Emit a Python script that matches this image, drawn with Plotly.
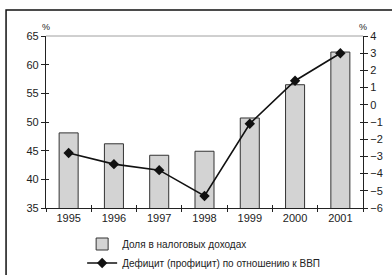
import plotly.graph_objects as go

years = ["1995", "1996", "1997", "1998", "1999", "2000", "2001"]
tax_share = [48.1, 46.2, 44.2, 44.9, 50.7, 56.5, 62.2]
deficit = [-2.8, -3.45, -3.8, -5.3, -1.1, 1.4, 3.0]
bar_name = "Доля в налоговых доходах"
line_name = "Дефицит (профицит) по отношению к ВВП"

FONT = "Liberation Sans, Arial, sans-serif"
AX = "#222222"

fig = go.Figure()
fig.add_trace(go.Bar(
    x=years, y=tax_share, name=bar_name, xaxis="x", yaxis="y",
    marker=dict(color="#d3d3d3", line=dict(color="#333333", width=1)),
    width=0.42,
))
fig.add_trace(go.Scatter(
    x=years, y=deficit, name=line_name, xaxis="x", yaxis="y2",
    mode="lines+markers",
    line=dict(color="#111111", width=1.6),
    marker=dict(symbol="diamond", size=8, color="#111111"),
))
# invisible helper traces so the "inside" tick overlays are drawn (crossing ticks)
fig.add_trace(go.Scatter(x=years, y=tax_share, xaxis="x2", yaxis="y3", mode="markers",
                         marker=dict(opacity=0), showlegend=False, hoverinfo="skip"))
fig.add_trace(go.Scatter(x=years, y=deficit, xaxis="x2", yaxis="y4", mode="markers",
                         marker=dict(opacity=0), showlegend=False, hoverinfo="skip"))

tickfont = dict(family=FONT, size=11, color=AX)
fig.update_layout(
    width=392, height=275,
    margin=dict(l=46, r=29, t=36, b=67, autoexpand=False),
    paper_bgcolor="white", plot_bgcolor="white",
    font=dict(family=FONT, size=11, color=AX),
    showlegend=True,
    legend=dict(x=0.114, y=-0.125, xanchor="left", yanchor="top",
                font=dict(family=FONT, size=10, color=AX),
                bgcolor="rgba(0,0,0,0)", tracegroupgap=0, itemwidth=30),
    xaxis=dict(type="category", categoryorder="array", categoryarray=years,
               range=[-0.5, 6.5], tickson="boundaries", ticks="outside", ticklen=3,
               tickcolor=AX, showline=True, linecolor=AX, linewidth=1.2,
               showgrid=False, tickfont=tickfont, zeroline=False, automargin=False),
    xaxis2=dict(type="category", categoryorder="array", categoryarray=years,
                range=[-0.5, 6.5], overlaying="x", side="bottom", tickson="boundaries",
                ticks="inside", ticklen=3, tickcolor=AX, showticklabels=False,
                showline=False, showgrid=False, zeroline=False, automargin=False),
    yaxis=dict(range=[35, 65], dtick=5, tick0=35, ticks="outside", ticklen=4,
               tickcolor=AX, showline=True, linecolor=AX, linewidth=1.2,
               showgrid=False, zeroline=False, tickfont=tickfont, automargin=False),
    yaxis2=dict(range=[-6, 4], dtick=1, tick0=-6, overlaying="y", side="right",
                ticks="outside", ticklen=4, tickcolor=AX, showline=True,
                linecolor=AX, linewidth=1.2, showgrid=False, zeroline=False,
                tickfont=tickfont, automargin=False),
    yaxis3=dict(range=[35, 65], dtick=5, tick0=35, overlaying="y", side="left",
                ticks="inside", ticklen=3, tickcolor=AX, showticklabels=False,
                showline=False, showgrid=False, zeroline=False, automargin=False),
    yaxis4=dict(range=[-6, 4], dtick=1, tick0=-6, overlaying="y", side="right",
                ticks="inside", ticklen=3, tickcolor=AX, showticklabels=False,
                showline=False, showgrid=False, zeroline=False, automargin=False),
    shapes=[
        dict(type="line", xref="paper", yref="paper", x0=0, x1=1, y0=1, y1=1,
             line=dict(color="#a0a0a0", width=1), layer="below"),
        dict(type="rect", xref="paper", yref="paper", x0=-0.126, x1=1.2,
             y0=-0.6, y1=1.151, line=dict(color="#111111", width=1.5),
             fillcolor="rgba(0,0,0,0)"),
    ],
    annotations=[
        dict(text="%", xref="paper", yref="paper", x=0, y=1.012, xanchor="center",
             yanchor="bottom", showarrow=False, font=dict(family=FONT, size=9, color=AX)),
        dict(text="%", xref="paper", yref="paper", x=1, y=1.012, xanchor="center",
             yanchor="bottom", showarrow=False, font=dict(family=FONT, size=9, color=AX)),
    ],
)

fig.write_html(
    "out.html",
    config={"displayModeBar": False},
    post_script="document.body.style.margin='0';document.body.style.overflow='hidden';",
)
